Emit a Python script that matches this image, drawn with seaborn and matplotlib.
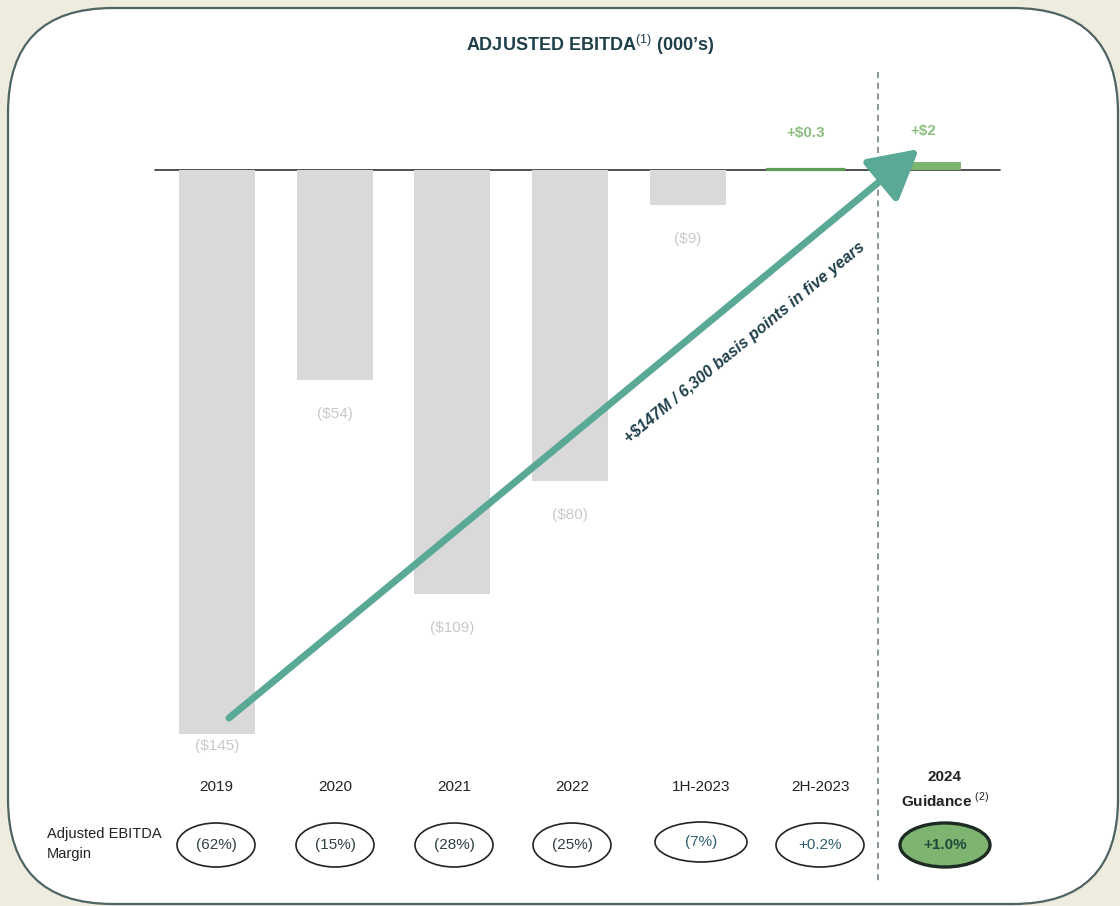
import matplotlib
matplotlib.use("Agg")
import matplotlib.pyplot as plt
import seaborn as sns
import pandas as pd
from matplotlib.patches import FancyBboxPatch, Ellipse, FancyArrowPatch

# ---- data -------------------------------------------------------------
categories = ["2019", "2020", "2021", "2022", "1H-2023", "2H-2023", "2024 Guidance"]
ebitda = [-145, -54, -109, -80, -9, 0.3, 2]
value_labels = ["($145)", "($54)", "($109)", "($80)", "($9)", "+$0.3", "+$2"]
margin_labels = ["(62%)", "(15%)", "(28%)", "(25%)", "(7%)", "+0.2%", "+1.0%"]
title_text = "ADJUSTED EBITDA$^{(1)}$ (000\u2019s)"
arrow_text = "+$147M / 6,300 basis points in five years"

# ---- styling ----------------------------------------------------------
sns.set_theme(style="white")
plt.rcParams["font.family"] = ["Liberation Sans", "DejaVu Sans"]
plt.rcParams["mathtext.fontset"] = "custom"
plt.rcParams["mathtext.rm"] = "Liberation Sans"
plt.rcParams["mathtext.bf"] = "Liberation Sans:bold"

BG = "#eeebdf"
GREY_BAR = "#d9d9d9"
GREEN = "#7db46f"
DARK_GREEN = "#5e9c58"
TEAL = "#5aa896"
NAVY = "#1f3f4a"
LABEL_GREY = "#c8c8c8"
POS_GREEN = "#8bbf7e"

W, H = 1120, 906
fig = plt.figure(figsize=(W / 100, H / 100), dpi=100)
fig.patch.set_facecolor(BG)

# pixel-space overlay for the white panel
bg = fig.add_axes([0, 0, 1, 1])
bg.set_xlim(0, W)
bg.set_ylim(H, 0)
bg.axis("off")
panel = FancyBboxPatch((8, 8), 1110, 896,
                       boxstyle="round,pad=0,rounding_size=105",
                       facecolor="white", edgecolor="#4f6464", linewidth=1.6)
bg.add_patch(panel)

# data axes spanning the figure
ax = fig.add_axes([0, 0, 1, 1], facecolor="none")
ax.set_zorder(2)
px_step = 117.7      # pixels between categories
x0_px = 217.0        # pixel of first category
zero_px = 170.0      # pixel of the zero line
px_per_unit = 3.89


def ypx(p):
    return (zero_px - p) / px_per_unit


def xpx(p):
    return (p - x0_px) / px_step


df = pd.DataFrame({"cat": categories, "val": ebitda})
colors = [GREY_BAR] * 5 + [DARK_GREEN, GREEN]
sns.barplot(data=df, x="cat", y="val", hue="cat", palette=colors,
            width=0.646, legend=False, ax=ax, saturation=1, linewidth=0)
for p in ax.patches:
    p.set_zorder(2)
    if 0 < p.get_height() < 1:
        p.set_edgecolor(DARK_GREEN)
        p.set_linewidth(1.6)

ax.set_xlim(xpx(0), xpx(W))
ax.set_ylim(ypx(H), ypx(0))
ax.axis("off")

# zero line
ax.plot([xpx(155), xpx(1000)], [0, 0], color="#333333", lw=1.2, zorder=1.5)

# value labels
for i, (v, lab) in enumerate(zip(ebitda, value_labels)):
    if v < 0:
        y = max(v - 34 / px_per_unit, ypx(746))
        ax.text(i, y, lab, ha="center", va="center", fontsize=11,
                color=LABEL_GREY)
    else:
        ax.text(i, ypx(133 if v < 1 else 131), lab, ha="center", va="center",
                fontsize=11, color=POS_GREEN, fontweight="bold")

# dashed divider before guidance
ax.plot([xpx(878), xpx(878)], [ypx(72), ypx(882)], color="#6b7b7b", lw=1.1,
        ls=(0, (4, 3)), zorder=1, clip_on=False)

# trend arrow
arr = FancyArrowPatch((xpx(229), ypx(718)), (xpx(919), ypx(149)),
                      arrowstyle="-|>,head_length=20,head_width=11",
                      mutation_scale=1.5, color=TEAL, lw=5, zorder=4,
                      shrinkA=0, shrinkB=0)
ax.add_patch(arr)
ax.text(xpx(745), ypx(343), arrow_text, rotation=39.5, rotation_mode="anchor",
        ha="center", va="center", fontsize=11.5, fontweight="bold",
        style="italic", color=NAVY, zorder=5)

# title
ax.text(xpx(590), ypx(45), title_text, ha="center", va="center",
        fontsize=13, fontweight="bold", color=NAVY)

# bottom row: category labels and margin ellipses
row_px = [216, 335, 454, 572, 701, 820, 945]
ell_w = [78, 78, 78, 78, 92, 88, 90]
cat_y = ypx(787)
ell_y = ypx(845)
for k, (cat, m) in enumerate(zip(categories, margin_labels)):
    xc = xpx(row_px[k])
    if k == len(categories) - 1:
        ax.text(xc, ypx(777), "2024", ha="center", va="center",
                fontsize=11, fontweight="bold", color="#222222")
        ax.text(xc, ypx(800), "Guidance $^{(2)}$", ha="center", va="center",
                fontsize=11, fontweight="bold", color="#222222")
        e = Ellipse((xc, ell_y), ell_w[k] / px_step, 44 / px_per_unit,
                    facecolor=GREEN, edgecolor="#1d2b22", lw=2.4,
                    clip_on=False, zorder=3)
        ax.add_patch(e)
        ax.text(xc, ell_y, m, ha="center", va="center", fontsize=11,
                fontweight="bold", color="#1c4a3a", zorder=4)
    else:
        ax.text(xc, cat_y, cat, ha="center", va="center", fontsize=11,
                color="#222222")
        yc = ypx(842) if k == 4 else ell_y
        h = 40 if k == 4 else 44
        e = Ellipse((xc, yc), ell_w[k] / px_step, h / px_per_unit,
                    facecolor="white", edgecolor="#222222", lw=1.2,
                    clip_on=False, zorder=3)
        ax.add_patch(e)
        mcol = "#2f3f44" if k < 4 else "#2e5f6e"
        ax.text(xc, yc, m, ha="center", va="center", fontsize=11,
                color=mcol, zorder=4)

ax.text(xpx(47), ypx(844), "Adjusted EBITDA\nMargin", ha="left",
        va="center", fontsize=10.5, color="#222222", linespacing=1.5)

fig.savefig("out.png", dpi=100, facecolor=BG)
